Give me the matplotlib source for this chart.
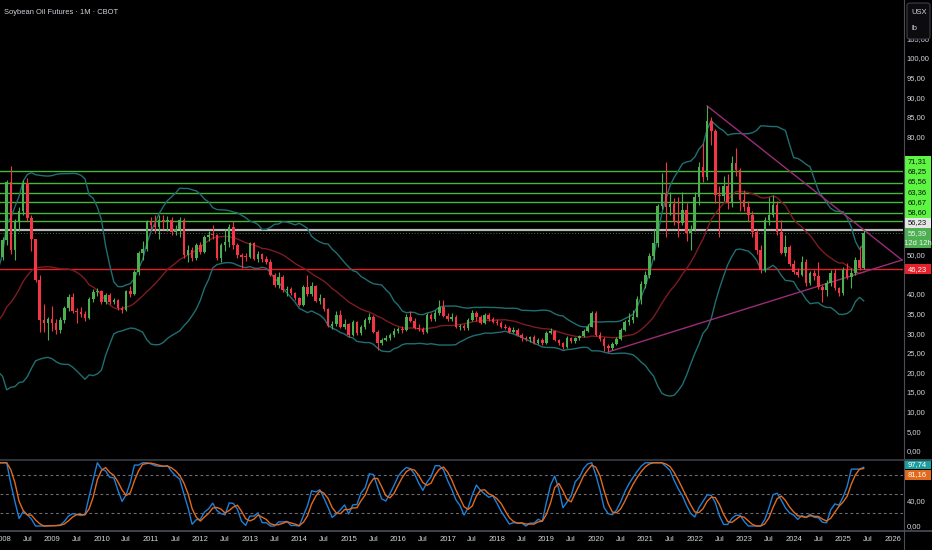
import numpy as np
import pandas as pd
import matplotlib
matplotlib.use("Agg")
import matplotlib.pyplot as plt
import matplotlib.transforms as mtransforms
from matplotlib.patches import Rectangle, FancyBboxPatch
from matplotlib.lines import Line2D
from matplotlib.ticker import FuncFormatter

W, H = 932, 550
TXT = "#d1d4dc"
UP = "#4caf50"
DN = "#f23645"
FONT = ["Liberation Sans Narrow", "Liberation Sans", "DejaVu Sans"]

# closes before the visible range (Jan 2005 - Nov 2007), only used to warm up the indicators
pre_close = [20.0, 20.5, 23.5, 22.5, 22.0, 24.5, 27.0, 25.5, 23.0, 21.0, 21.5, 22.0,
             23.5, 23.0, 24.5, 26.0, 27.3, 27.0, 28.0, 28.5, 24.5, 27.3, 30.0, 28.3,
             29.0, 31.0, 30.8, 32.5, 34.5, 35.7, 36.8, 37.5, 39.4, 41.7, 45.9]

# monthly candles Dec 2007 .. Jun 2025 (USX/lb), open = previous close
close = [49.4,
         53.7, 68.5, 51.1, 58.3, 61.0, 68.2, 59.3, 53.9, 43.5, 33.3, 32.5, 33.5,   # 2008
         32.5, 30.8, 33.3, 36.4, 39.2, 35.6, 35.3, 34.8, 33.9, 38.7, 40.5, 40.6,   # 2009
         38.0, 39.7, 38.0, 38.4, 36.5, 35.8, 40.6, 40.0, 45.5, 50.4, 51.5, 58.3,   # 2010
         57.6, 57.1, 58.8, 58.4, 58.8, 55.8, 56.4, 58.9, 49.9, 51.1, 49.0, 52.4,   # 2011
         50.7, 54.5, 55.0, 54.9, 49.0, 52.4, 53.2, 57.1, 52.4, 49.9, 49.4, 49.3,   # 2012
         52.8, 48.9, 50.1, 48.8, 48.2, 44.8, 42.3, 44.4, 40.9, 41.1, 40.1, 38.85,  # 2013
         37.15, 41.65, 39.95, 42.0, 38.25, 38.85, 36.05, 31.8, 32.3, 34.6, 31.6, 32.3,  # 2014
         29.5, 32.9, 29.9, 31.6, 33.3, 34.2, 30.4, 27.4, 28.3, 28.7, 29.5, 30.6,   # 2015
         31.0, 30.8, 34.2, 33.0, 31.3, 31.0, 30.3, 34.6, 33.5, 35.2, 36.7, 34.3,   # 2016
         33.5, 34.2, 31.5, 31.8, 31.2, 33.3, 35.2, 34.0, 32.5, 34.6, 33.5, 32.9,   # 2017
         32.5, 31.6, 31.4, 30.4, 30.9, 29.5, 28.7, 28.4, 28.9, 27.6, 28.3, 27.4,   # 2018
         30.1, 30.6, 28.3, 27.4, 26.5, 28.7, 28.0, 28.7, 29.3, 30.6, 31.6, 35.2,   # 2019
         29.6, 28.4, 26.6, 26.3, 27.3, 28.6, 30.8, 32.9, 33.3, 34.2, 38.8, 42.6,   # 2020
         44.8, 49.6, 52.85, 62.3, 65.6, 62.2, 62.8, 58.6, 58.1, 61.2, 55.4, 56.6,  # 2021
         64.7, 72.3, 69.8, 84.05, 81.3, 65.2, 64.9, 67.4, 63.0, 73.2, 71.5, 63.9,  # 2022
         62.1, 60.0, 55.8, 51.2, 46.1, 58.8, 60.1, 62.6, 55.8, 50.5, 52.0, 47.7,   # 2023
         45.6, 44.9, 48.2, 42.7, 45.2, 44.5, 41.8, 41.0, 42.7, 45.2, 41.4, 40.1,   # 2024
         46.1, 44.4, 45.2, 48.6, 46.5, 55.39]                                      # 2025

high = [50.5,
        54.5, 69.0, 72.5, 59.0, 62.0, 69.0, 69.5, 60.0, 54.0, 44.8, 37.3, 34.0,
        37.0, 33.5, 34.0, 37.0, 40.0, 40.3, 36.5, 36.6, 35.5, 39.2, 41.3, 41.5,
        41.0, 40.3, 40.2, 39.0, 38.8, 37.0, 41.0, 42.0, 46.0, 51.0, 53.5, 58.8,
        59.5, 60.0, 60.0, 60.0, 59.8, 59.5, 57.5, 59.5, 59.3, 52.5, 52.0, 53.0,
        53.3, 55.0, 56.0, 57.4, 55.3, 53.0, 56.5, 57.8, 58.5, 52.8, 50.5, 50.3,
        53.3, 53.2, 50.8, 50.5, 49.5, 48.8, 45.3, 45.5, 44.8, 42.0, 41.8, 40.5,
        39.3, 42.2, 44.8, 43.0, 42.3, 40.0, 39.0, 36.3, 33.0, 35.5, 35.8, 33.5,
        32.5, 33.3, 33.0, 32.0, 33.8, 35.2, 34.5, 30.8, 28.8, 29.5, 30.0, 31.3,
        31.5, 31.8, 34.8, 35.5, 33.8, 32.3, 31.5, 35.0, 35.0, 35.8, 38.5, 38.5,
        35.2, 35.2, 34.5, 32.3, 32.2, 33.8, 35.8, 35.5, 34.5, 35.0, 35.0, 34.0,
        33.5, 33.0, 32.3, 31.8, 31.5, 31.2, 30.0, 29.2, 29.3, 29.5, 28.8, 28.8,
        30.5, 31.3, 30.8, 28.5, 27.8, 29.2, 29.0, 29.0, 29.5, 31.0, 32.3, 35.5,
        35.5, 30.2, 29.0, 27.3, 27.8, 29.0, 31.2, 33.3, 35.0, 35.8, 39.5, 43.3,
        45.8, 50.5, 56.5, 62.8, 70.7, 73.6, 66.0, 64.5, 64.7, 66.0, 63.0, 57.5,
        66.0, 73.5, 78.3, 87.8, 85.0, 82.0, 67.5, 70.0, 70.5, 75.0, 77.0, 72.0,
        66.5, 63.5, 61.0, 56.5, 52.5, 59.5, 64.7, 65.1, 63.5, 58.8, 55.0, 52.5,
        48.5, 46.5, 49.5, 48.8, 45.8, 46.0, 48.0, 42.3, 43.5, 46.0, 46.3, 41.8,
        46.8, 47.8, 46.5, 49.3, 52.2, 56.2]

low = [45.0,
       48.5, 52.5, 50.0, 48.6, 56.0, 60.0, 58.5, 51.0, 43.0, 30.4, 30.3, 28.2,
       30.5, 29.8, 30.0, 32.5, 35.5, 35.0, 32.5, 34.0, 33.0, 33.5, 38.0, 39.5,
       37.5, 37.3, 37.5, 37.5, 35.8, 35.0, 35.5, 39.3, 39.6, 44.8, 48.5, 51.0,
       56.5, 55.5, 54.0, 56.5, 56.0, 55.0, 55.0, 54.5, 49.0, 48.0, 48.3, 48.5,
       50.0, 50.5, 53.5, 54.0, 48.5, 48.0, 51.0, 52.0, 51.5, 49.0, 46.5, 48.3,
       49.0, 48.5, 48.0, 48.0, 47.5, 44.5, 41.8, 41.5, 40.5, 39.5, 39.8, 38.3,
       36.8, 37.0, 39.5, 39.5, 38.0, 37.5, 35.5, 31.5, 31.0, 31.8, 31.3, 31.0,
       29.0, 29.3, 29.5, 29.5, 31.0, 32.5, 30.0, 25.7, 27.0, 28.0, 28.2, 29.0,
       30.0, 30.0, 30.5, 32.8, 31.0, 30.5, 29.8, 30.0, 33.0, 33.0, 34.5, 34.0,
       33.0, 33.0, 31.2, 30.8, 30.8, 30.8, 33.0, 33.2, 32.2, 32.3, 33.2, 32.5,
       32.0, 31.3, 31.0, 30.0, 30.0, 29.2, 28.0, 28.0, 27.8, 27.3, 27.3, 27.0,
       27.3, 29.8, 28.0, 27.0, 26.0, 26.3, 27.5, 27.5, 28.3, 29.0, 30.3, 31.5,
       29.3, 28.0, 25.5, 25.2, 25.8, 27.0, 28.3, 30.5, 32.0, 32.5, 34.0, 37.5,
       41.5, 44.0, 48.5, 52.0, 61.5, 54.5, 60.0, 57.5, 54.5, 57.5, 53.5, 51.2,
       56.0, 62.5, 68.5, 69.0, 77.9, 63.0, 54.5, 63.5, 61.5, 62.0, 70.0, 61.0,
       61.0, 58.5, 54.5, 50.0, 45.3, 45.5, 57.5, 59.5, 55.0, 50.0, 49.5, 47.0,
       45.0, 44.3, 44.5, 42.0, 42.2, 43.5, 41.3, 38.0, 39.5, 42.0, 41.0, 39.5,
       39.8, 43.8, 41.5, 44.8, 46.0, 46.2]

# drawn horizontal levels
green_levels = [71.31, 68.25, 65.56, 63.36, 60.67, 58.60]
white_level = 56.23
red_level = 46.23
countdown = "12d 12h"
stoch_k_last = 97.74
stoch_d_last = 81.16
# triangle apex (month index from Jan 2008, price)
apex = (218.3, 48.6)
# price scale labels that are not hidden behind the level boxes
price_ticks = [0, 5, 10, 15, 20, 25, 30, 35, 40, 50, 80, 85, 90, 95, 100, 105]

close = np.array(close)
high = np.array(high)
low = np.array(low)
opens = np.concatenate([[pre_close[-1]], close[:-1]])
m = np.arange(len(close)) - 1          # 0 = Jan 2008

# indicators over the whole history
full = pd.Series(pre_close + list(close))
xf = np.arange(len(full)) - len(pre_close) - 1
basis = full.rolling(20).mean()
dev = full.rolling(20).std(ddof=0)
upper = basis + 2 * dev
lower = basis - 2 * dev

delta = full.diff()
gain = delta.clip(lower=0).ewm(alpha=1 / 14, adjust=False).mean()
loss = (-delta.clip(upper=0)).ewm(alpha=1 / 14, adjust=False).mean()
rsi = 100 - 100 / (1 + gain / loss)
rlo = rsi.rolling(14).min()
rhi = rsi.rolling(14).max()
stoch = 100 * (rsi - rlo) / (rhi - rlo)
k = stoch.rolling(3).mean()
d = k.rolling(3).mean()

fig = plt.figure(figsize=(W / 100, H / 100), dpi=100, facecolor="black")
ax = fig.add_axes([0, 1 - 457 / H, 903 / W, 457 / H], facecolor="black")
ax2 = fig.add_axes([0, 1 - 530 / H, 903 / W, 69 / H], facecolor="black", sharex=ax)

xlim = (-2.6 / 4.12, (903 - 2.6) / 4.12)
ax.set_xlim(*xlim)
ax.set_ylim(-1.53, 114.76)
ax2.set_ylim(-6.3, 102.8)

# bollinger bands
ax.plot(xf, upper, color="#1f6f72", lw=1, zorder=2)
ax.plot(xf, lower, color="#1f6f72", lw=1, zorder=2)
ax.plot(xf, basis, color="#7d1b22", lw=1, zorder=2)

# horizontal levels
for lv in green_levels:
    ax.axhline(lv, color="#45b83a", lw=1, zorder=1)
ax.axhline(white_level, color="#b8b8b8", lw=1.6, zorder=1)
ax.axhline(close[-1], color="#3d7f40", lw=0.7, ls=(0, (1, 2)), zorder=1)
ax.axhline(red_level, color="#e3202c", lw=1, zorder=1)

# triangle trendlines
ax.plot([m[172], apex[0]], [high[172], apex[1]], color="#9a2c78", lw=1, zorder=2)
ax.plot([m[148], apex[0]], [low[148], apex[1]], color="#9a2c78", lw=1, zorder=2)

# candles
cols = np.where(close >= opens, UP, DN)
ax.vlines(m, low, high, colors=cols, lw=0.8, zorder=3)
body = np.maximum(np.abs(close - opens), 0.25)
ax.bar(m, body, bottom=np.minimum(close, opens), width=0.62, color=cols, lw=0, zorder=4)

# stoch rsi pane
for lv in [80, 50, 20]:
    ax2.axhline(lv, color="#6a6d75", lw=0.8, ls=(0, (2.5, 2.5)))
ax2.plot(xf, k, color="#1e7fd8", lw=1)
ax2.plot(xf, d, color="#e36a1c", lw=1)

comma = FuncFormatter(lambda v, p: f"{v:.2f}".replace(".", ","))
for a, ticks in [(ax, price_ticks), (ax2, [0, 40])]:
    a.yaxis.tick_right()
    a.set_yticks(ticks)
    a.yaxis.set_major_formatter(comma)
    a.tick_params(axis="y", length=0, pad=2.6, labelsize=5.5, labelcolor=TXT)
    for s in a.spines.values():
        s.set_visible(False)
    for lab in a.get_yticklabels():
        lab.set_fontfamily(FONT)

ax.tick_params(axis="x", bottom=False, labelbottom=False)
years = list(range(2008, 2027))
tick_pos, tick_lab = [], []
for y in years:
    tick_pos.append(12 * (y - 2008))
    tick_lab.append(str(y))
    if y < 2026:
        tick_pos.append(12 * (y - 2008) + 6)
        tick_lab.append("Jul")
ax2.set_xticks(tick_pos)
ax2.set_xticklabels(tick_lab, fontsize=5.5, color=TXT, fontfamily=FONT)
ax2.tick_params(axis="x", length=0, pad=4)
ax2.set_xlim(*xlim)


def axis_box(a, val, text, fc, tc, h_px=10.3, extra_px=0, sub=None):
    y0, y1 = a.get_ylim()
    upp = (y1 - y0) / (a.get_position().height * H)
    tr = mtransforms.blended_transform_factory(fig.transFigure, a.transData)
    top = val + h_px / 2 * upp
    hh = (h_px + extra_px) * upp
    a.add_patch(Rectangle((904 / W, top - hh), 27 / W, hh, transform=tr,
                          facecolor=fc, edgecolor="none", clip_on=False, zorder=10))
    a.text(917.5 / W, val, text, transform=tr, ha="center", va="center",
           fontsize=5.5, color=tc, fontfamily=FONT, zorder=11, clip_on=False)
    if sub:
        a.text(917.5 / W, val - 10 * upp, sub, transform=tr, ha="center", va="center",
               fontsize=5.5, color=tc, fontfamily=FONT, zorder=11, clip_on=False)


def fmt(v):
    return f"{v:.2f}".replace(".", ",")


upp_main = (114.76 + 1.53) / 457
step = 10.3 * upp_main
# labels stack upward from the last price, each pushed up if it would overlap
pos = close[-1]
axis_box(ax, pos, fmt(close[-1]), "#4caf50", "#f0f0f0", extra_px=10, sub=countdown)
pos = max(white_level, pos + step)
axis_box(ax, pos, fmt(white_level), "#e6e6e6", "#111111")
for lv in sorted(green_levels):
    pos = max(lv, pos + step)
    axis_box(ax, pos, fmt(lv), "#5cf542", "#111111")
axis_box(ax, red_level, fmt(red_level), "#e8202c", "#ffffff")

upp_rsi = (102.8 + 6.3) / 69
axis_box(ax2, stoch_k_last, fmt(stoch_k_last), "#1b9e9e", "#ffffff", h_px=10)
axis_box(ax2, min(stoch_d_last, stoch_k_last - 10.5 * upp_rsi), fmt(stoch_d_last),
         "#e36a1c", "#ffffff", h_px=10)

# separators
fig.add_artist(Line2D([903.5 / W, 903.5 / W], [0, 1], color="#4a4d57", lw=0.8))
fig.add_artist(Line2D([0, 1], [1 - 459.5 / H, 1 - 459.5 / H], color="#3a3d46", lw=1.2))
fig.add_artist(Line2D([0, 1], [1 - 530.5 / H, 1 - 530.5 / H], color="#4a4d57", lw=1.2))

fig.text(4 / W, 1 - 12 / H, "Soybean Oil Futures · 1M · CBOT", fontsize=5.4, color=TXT,
         va="center", ha="left", fontfamily=FONT)
fig.add_artist(FancyBboxPatch((907 / W, 1 - 39 / H), 23 / W, 36 / H,
                              boxstyle="round,pad=0,rounding_size=0.004",
                              transform=fig.transFigure, facecolor="#0c0c0e",
                              edgecolor="#3c3f48", lw=0.8, zorder=20))
fig.text(911 / W, 1 - 12 / H, "USX", fontsize=5.5, color=TXT, va="center",
         fontfamily=FONT, zorder=21)
fig.text(911 / W, 1 - 29 / H, "lb", fontsize=5.5, color=TXT, va="center",
         fontfamily=FONT, zorder=21)

fig.savefig("out.png", dpi=100, facecolor="black")
